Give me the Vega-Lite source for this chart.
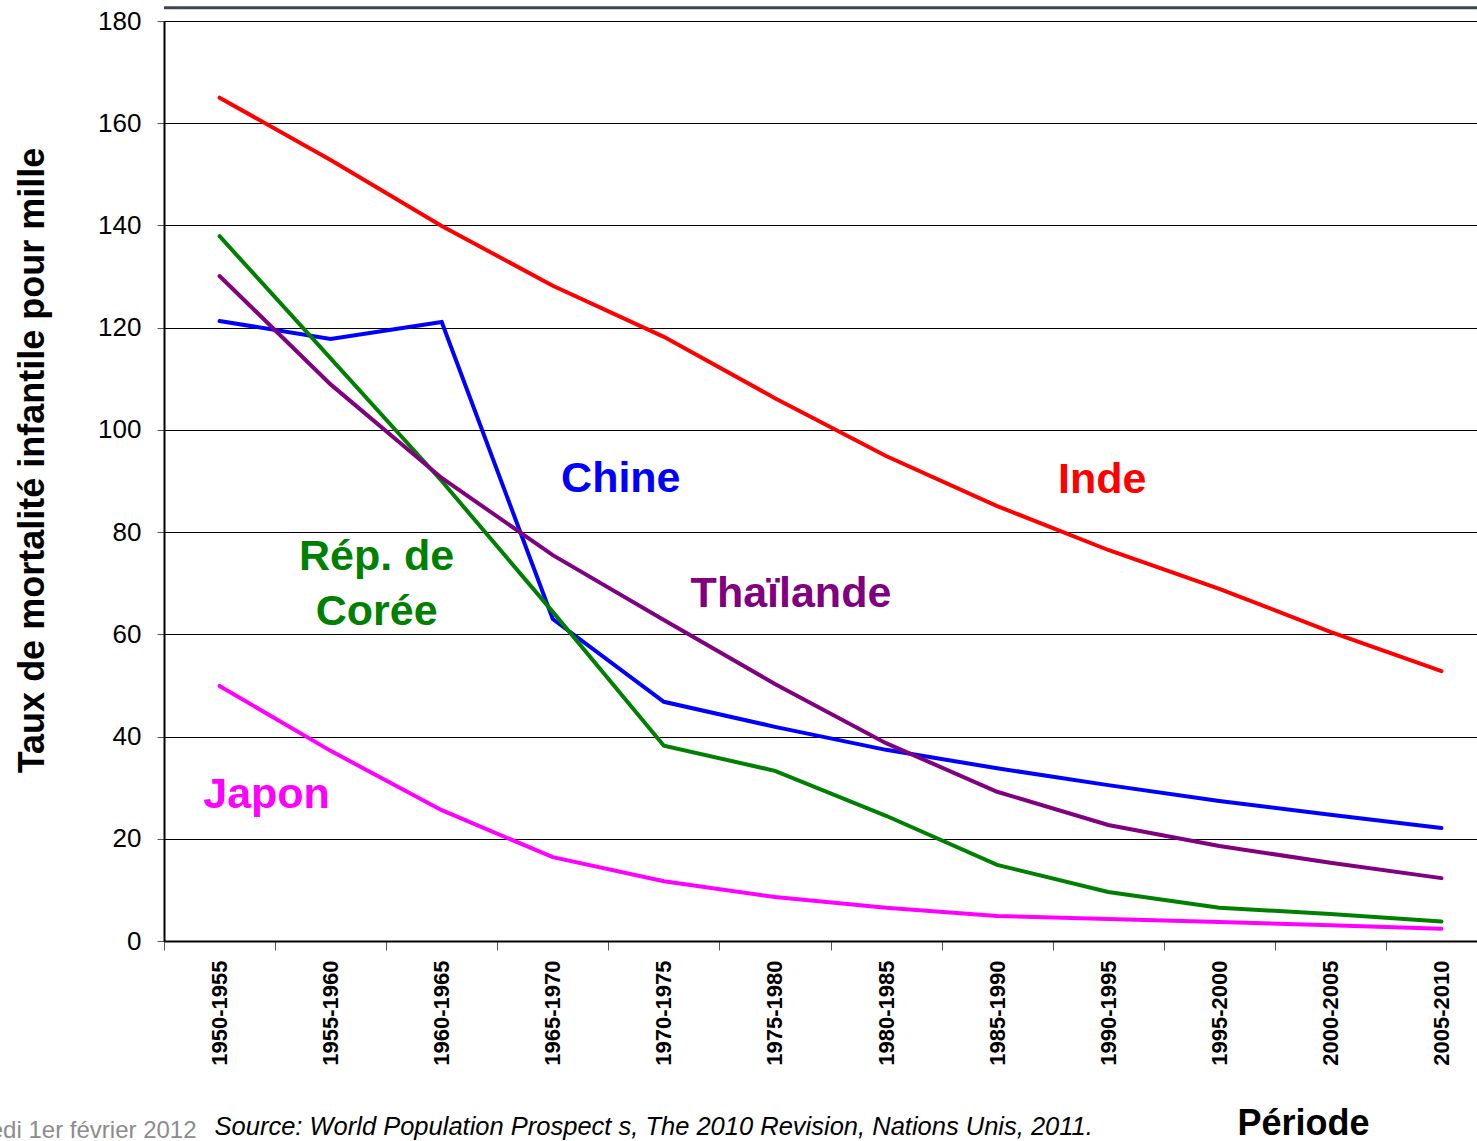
{
  "$schema": "https://vega.github.io/schema/vega-lite/v6.json",
  "width": 1313,
  "height": 920,
  "autosize": {"type": "none"},
  "padding": {"left": 164, "top": 21, "right": 0, "bottom": 200},
  "background": "white",
  "config": {"view": {"stroke": null}, "font": "Liberation Sans"},
  "data": {
    "values": [
      {"period": "1950-1955", "country": "Chine", "value": 121.3},
      {"period": "1955-1960", "country": "Chine", "value": 117.8},
      {"period": "1960-1965", "country": "Chine", "value": 121.1},
      {"period": "1965-1970", "country": "Chine", "value": 63.0},
      {"period": "1970-1975", "country": "Chine", "value": 46.8},
      {"period": "1975-1980", "country": "Chine", "value": 41.9},
      {"period": "1980-1985", "country": "Chine", "value": 37.4},
      {"period": "1985-1990", "country": "Chine", "value": 33.8},
      {"period": "1990-1995", "country": "Chine", "value": 30.5},
      {"period": "1995-2000", "country": "Chine", "value": 27.4},
      {"period": "2000-2005", "country": "Chine", "value": 24.7},
      {"period": "2005-2010", "country": "Chine", "value": 22.1},
      {"period": "1950-1955", "country": "Inde", "value": 165.0},
      {"period": "1955-1960", "country": "Inde", "value": 152.8},
      {"period": "1960-1965", "country": "Inde", "value": 139.9},
      {"period": "1965-1970", "country": "Inde", "value": 128.2},
      {"period": "1970-1975", "country": "Inde", "value": 118.2},
      {"period": "1975-1980", "country": "Inde", "value": 106.2},
      {"period": "1980-1985", "country": "Inde", "value": 94.9},
      {"period": "1985-1990", "country": "Inde", "value": 85.1},
      {"period": "1990-1995", "country": "Inde", "value": 76.5},
      {"period": "1995-2000", "country": "Inde", "value": 68.9},
      {"period": "2000-2005", "country": "Inde", "value": 60.5},
      {"period": "2005-2010", "country": "Inde", "value": 52.8},
      {"period": "1950-1955", "country": "Japon", "value": 49.9},
      {"period": "1955-1960", "country": "Japon", "value": 37.2},
      {"period": "1960-1965", "country": "Japon", "value": 25.6},
      {"period": "1965-1970", "country": "Japon", "value": 16.4},
      {"period": "1970-1975", "country": "Japon", "value": 11.7},
      {"period": "1975-1980", "country": "Japon", "value": 8.6},
      {"period": "1980-1985", "country": "Japon", "value": 6.5},
      {"period": "1985-1990", "country": "Japon", "value": 4.9},
      {"period": "1990-1995", "country": "Japon", "value": 4.3},
      {"period": "1995-2000", "country": "Japon", "value": 3.7},
      {"period": "2000-2005", "country": "Japon", "value": 3.1},
      {"period": "2005-2010", "country": "Japon", "value": 2.4},
      {"period": "1950-1955", "country": "Rép. de Corée", "value": 137.9},
      {"period": "1955-1960", "country": "Rép. de Corée", "value": 114.0},
      {"period": "1960-1965", "country": "Rép. de Corée", "value": 90.0},
      {"period": "1965-1970", "country": "Rép. de Corée", "value": 64.4},
      {"period": "1970-1975", "country": "Rép. de Corée", "value": 38.2},
      {"period": "1975-1980", "country": "Rép. de Corée", "value": 33.3},
      {"period": "1980-1985", "country": "Rép. de Corée", "value": 24.5},
      {"period": "1985-1990", "country": "Rép. de Corée", "value": 14.9},
      {"period": "1990-1995", "country": "Rép. de Corée", "value": 9.6},
      {"period": "1995-2000", "country": "Rép. de Corée", "value": 6.5},
      {"period": "2000-2005", "country": "Rép. de Corée", "value": 5.3},
      {"period": "2005-2010", "country": "Rép. de Corée", "value": 3.8},
      {"period": "1950-1955", "country": "Thaïlande", "value": 130.1},
      {"period": "1955-1960", "country": "Thaïlande", "value": 108.9},
      {"period": "1960-1965", "country": "Thaïlande", "value": 90.6},
      {"period": "1965-1970", "country": "Thaïlande", "value": 75.5},
      {"period": "1970-1975", "country": "Thaïlande", "value": 62.8},
      {"period": "1975-1980", "country": "Thaïlande", "value": 50.3},
      {"period": "1980-1985", "country": "Thaïlande", "value": 38.7},
      {"period": "1985-1990", "country": "Thaïlande", "value": 29.2},
      {"period": "1990-1995", "country": "Thaïlande", "value": 22.7},
      {"period": "1995-2000", "country": "Thaïlande", "value": 18.6},
      {"period": "2000-2005", "country": "Thaïlande", "value": 15.3},
      {"period": "2005-2010", "country": "Thaïlande", "value": 12.3}
    ]
  },
  "layer": [
    {
      "mark": {"type": "line", "strokeWidth": 4, "strokeCap": "round"},
      "encoding": {
        "x": {
          "field": "period",
          "type": "ordinal",
          "sort": null,
          "scale": {
            "type": "band",
            "domain": ["1950-1955", "1955-1960", "1960-1965", "1965-1970", "1970-1975", "1975-1980", "1980-1985", "1985-1990", "1990-1995", "1995-2000", "2000-2005", "2005-2010"],
            "paddingInner": 0,
            "paddingOuter": 0,
            "range": [0, 1333]
          },
          "axis": {
            "title": "Période",
            "titleFontSize": 36,
            "titleFontWeight": "bold",
            "titleColor": "black",
            "titleX": 1139,
            "titleY": 193,
            "titleAlign": "center",
            "titleBaseline": "alphabetic",
            "labelAngle": -90,
            "labelAlign": "right",
            "labelBaseline": "middle",
            "labelFontSize": 22,
            "labelFontWeight": "bold",
            "labelColor": "black",
            "labelPadding": 10,
            "tickBand": "extent",
            "tickSize": 9,
            "tickColor": "#555555",
            "domainColor": "black",
            "domainWidth": 2,
            "grid": false
          }
        },
        "y": {
          "field": "value",
          "type": "quantitative",
          "scale": {"domain": [0, 180], "nice": false},
          "axis": {
            "title": "Taux de mortalité infantile pour mille",
            "titleFontSize": 36,
            "titleFontWeight": "bold",
            "titleColor": "black",
            "titleX": -132,
            "titleY": 439,
            "titleAngle": -90,
            "titleAlign": "center",
            "titleBaseline": "middle",
            "values": [0, 20, 40, 60, 80, 100, 120, 140, 160, 180],
            "labelFontSize": 26,
            "labelColor": "black",
            "labelPadding": 16,
            "tickSize": 7,
            "tickColor": "#555555",
            "domainColor": "black",
            "domainWidth": 2,
            "grid": true,
            "gridColor": "black",
            "gridWidth": 1,
            "gridOpacity": 1
          }
        },
        "color": {
          "field": "country",
          "type": "nominal",
          "scale": {
            "domain": ["Chine", "Inde", "Japon", "Rép. de Corée", "Thaïlande"],
            "range": ["#0000ff", "#ff0000", "#ff00ff", "#008000", "#800080"]
          },
          "legend": null
        }
      }
    },
    {
      "data": {"values": [{}]},
      "mark": {"type": "rule", "color": "#3b4852", "strokeWidth": 3},
      "encoding": {"y": {"datum": 182.6, "type": "quantitative"}}
    },
    {
      "data": {"values": [{}]},
      "mark": {"type": "text", "text": "Chine", "color": "#0000ff", "fontSize": 43, "fontWeight": "bold", "align": "center", "baseline": "middle", "dx": 68},
      "encoding": {"x": {"datum": "1965-1970"}, "y": {"datum": 90.4, "type": "quantitative"}}
    },
    {
      "data": {"values": [{}]},
      "mark": {"type": "text", "text": "Inde", "color": "#ff0000", "fontSize": 43, "fontWeight": "bold", "align": "center", "baseline": "middle", "dx": -6},
      "encoding": {"x": {"datum": "1990-1995"}, "y": {"datum": 90.2, "type": "quantitative"}}
    },
    {
      "data": {"values": [{}]},
      "mark": {"type": "text", "text": "Thaïlande", "color": "#800080", "fontSize": 43, "fontWeight": "bold", "align": "center", "baseline": "middle", "dx": 16},
      "encoding": {"x": {"datum": "1975-1980"}, "y": {"datum": 67.9, "type": "quantitative"}}
    },
    {
      "data": {"values": [{}]},
      "mark": {"type": "text", "text": ["Rép. de", "Corée"], "lineHeight": 55, "color": "#008000", "fontSize": 43, "fontWeight": "bold", "align": "center", "baseline": "middle", "dx": 46},
      "encoding": {"x": {"datum": "1955-1960"}, "y": {"datum": 75.1, "type": "quantitative"}}
    },
    {
      "data": {"values": [{}]},
      "mark": {"type": "text", "text": "Japon", "color": "#ff00ff", "fontSize": 43, "fontWeight": "bold", "align": "center", "baseline": "middle", "dx": 47},
      "encoding": {"x": {"datum": "1950-1955"}, "y": {"datum": 28.6, "type": "quantitative"}}
    },
    {
      "data": {"values": [{}]},
      "mark": {"type": "text", "text": "Source: World Population Prospect s, The 2010 Revision, Nations Unis, 2011.", "color": "black", "fontSize": 25.5, "fontStyle": "italic", "align": "left", "baseline": "alphabetic", "dx": -5},
      "encoding": {"x": {"datum": "1950-1955"}, "y": {"datum": -38.0, "type": "quantitative"}}
    },
    {
      "data": {"values": [{}]},
      "mark": {"type": "text", "text": "mercredi 1er février 2012", "color": "#8c8c8c", "fontSize": 24, "align": "right", "baseline": "alphabetic", "dx": -23},
      "encoding": {"x": {"datum": "1950-1955"}, "y": {"datum": -38.5, "type": "quantitative"}}
    }
  ]
}
